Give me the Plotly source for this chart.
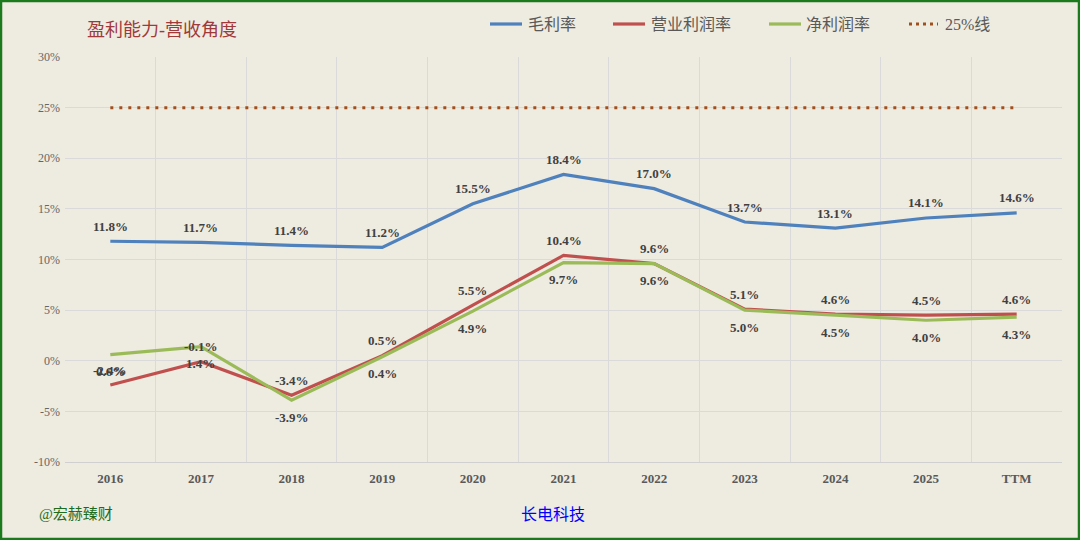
import plotly.graph_objects as go

years = ["2016", "2017", "2018", "2019", "2020", "2021", "2022", "2023", "2024", "2025", "TTM"]
gross_margin = [11.8, 11.7, 11.4, 11.2, 15.5, 18.4, 17.0, 13.7, 13.1, 14.1, 14.6]
operating_margin = [-2.4, -0.1, -3.4, 0.5, 5.5, 10.4, 9.6, 5.1, 4.6, 4.5, 4.6]
net_margin = [0.6, 1.4, -3.9, 0.4, 4.9, 9.7, 9.6, 5.0, 4.5, 4.0, 4.3]
line_25 = [25] * len(years)
y_ticks = [-10, -5, 0, 5, 10, 15, 20, 25, 30]
y_tick_labels = ["-10%", "-5%", "0%", "5%", "10%", "15%", "20%", "25%", "30%"]

W, H = 1080, 540
L, R, T, B = 65, 18, 57, 78
pw, ph = W - L - R, H - T - B

serif = "Liberation Serif, Times New Roman, Noto Sans CJK SC, serif"
label_font = dict(family=serif, size=13, color="#404040", weight="bold")

series = [
    # name, values, colour, label shift in px (+ above / - below)
    ("毛利率", gross_margin, "#4F81BD", 15),
    ("营业利润率", operating_margin, "#C0504D", 15),
    ("净利润率", net_margin, "#9BBB59", -17),
]

fig = go.Figure()
annotations = []
for name, vals, color, shift in series:
    fig.add_trace(go.Scatter(
        x=years, y=vals, name=name, mode="lines",
        line=dict(color=color, width=3.2),
    ))
    # category axis: place labels by category index
    for i, v in enumerate(vals):
        annotations.append(dict(
            x=i, y=v, xref="x", yref="y", text="%.1f%%" % v,
            showarrow=False, yshift=shift, yanchor="middle",
            font=label_font,
        ))

fig.add_trace(go.Scatter(
    x=years, y=line_25, name="25%线", mode="lines",
    line=dict(color="#A0501E", width=3, dash="3px,6px"),
))


def px_x(px):
    return (px - L) / pw


def px_y(py):
    return 1 - (py - T) / ph


# legend drawn by hand: (line start, line end, text start, name, colour, dash)
legend_items = [
    (490, 522, 526, "毛利率", "#4F81BD", "solid"),
    (613, 645, 649, "营业利润率", "#C0504D", "solid"),
    (769, 801, 804, "净利润率", "#9BBB59", "solid"),
    (909, 938, 943, "25%线", "#A0501E", "3px,4px"),
]
legend_y = 24
shapes = []
for x0, x1, tx, name, color, dash in legend_items:
    shapes.append(dict(type="line", xref="paper", yref="paper",
                       x0=px_x(x0), x1=px_x(x1), y0=px_y(legend_y), y1=px_y(legend_y),
                       line=dict(color=color, width=3.2, dash=dash)))
    annotations.append(dict(text=name, xref="paper", yref="paper",
                            x=px_x(tx), y=px_y(legend_y), xanchor="left", yanchor="middle",
                            showarrow=False, font=dict(family=serif, size=16, color="#595959")))

annotations += [
    dict(text="盈利能力-营收角度", xref="paper", yref="paper",
         x=px_x(85), y=px_y(30), xanchor="left", yanchor="middle",
         showarrow=False, font=dict(family=serif, size=18, color="#A0393A")),
    dict(text="@宏赫臻财", xref="paper", yref="paper",
         x=px_x(37), y=px_y(514), xanchor="left", yanchor="middle",
         showarrow=False, font=dict(family=serif, size=15, color="#1E6B1E")),
    dict(text="长电科技", xref="paper", yref="paper",
         x=px_x(553), y=px_y(514), xanchor="center", yanchor="middle",
         showarrow=False, font=dict(family=serif, size=16, color="#0000FF")),
]

shapes.append(dict(type="rect", xref="paper", yref="paper",
                   x0=px_x(1), x1=px_x(W - 1), y0=px_y(H - 1), y1=px_y(1),
                   line=dict(color="#1B7A1B", width=2.5), fillcolor="rgba(0,0,0,0)"))

fig.update_layout(
    width=W, height=H,
    margin=dict(l=L, r=R, t=T, b=B),
    paper_bgcolor="#EEEBE0",
    plot_bgcolor="#EEEBE0",
    showlegend=False,
    xaxis=dict(
        type="category", tickson="boundaries",
        showgrid=True, gridcolor="#DADADA", gridwidth=1,
        showline=True, linecolor="#D0D0D0",
        tickfont=dict(family=serif, size=13, color="#595959", weight="bold"),
        ticks="", ticklabelstandoff=4,
        range=[-0.5, 10.5],
    ),
    yaxis=dict(
        range=[-10, 30], tickmode="array",
        tickvals=y_ticks, ticktext=y_tick_labels,
        showgrid=True, gridcolor="#DADADA", gridwidth=1,
        zeroline=False, showline=False,
        tickfont=dict(family=serif, size=12, color="#666666"),
        ticks="", ticklabelstandoff=4,
    ),
    annotations=annotations,
    shapes=shapes,
)

fig.write_html("out.html", config={"displayModeBar": False},
               post_script="document.body.style.margin='0';")
